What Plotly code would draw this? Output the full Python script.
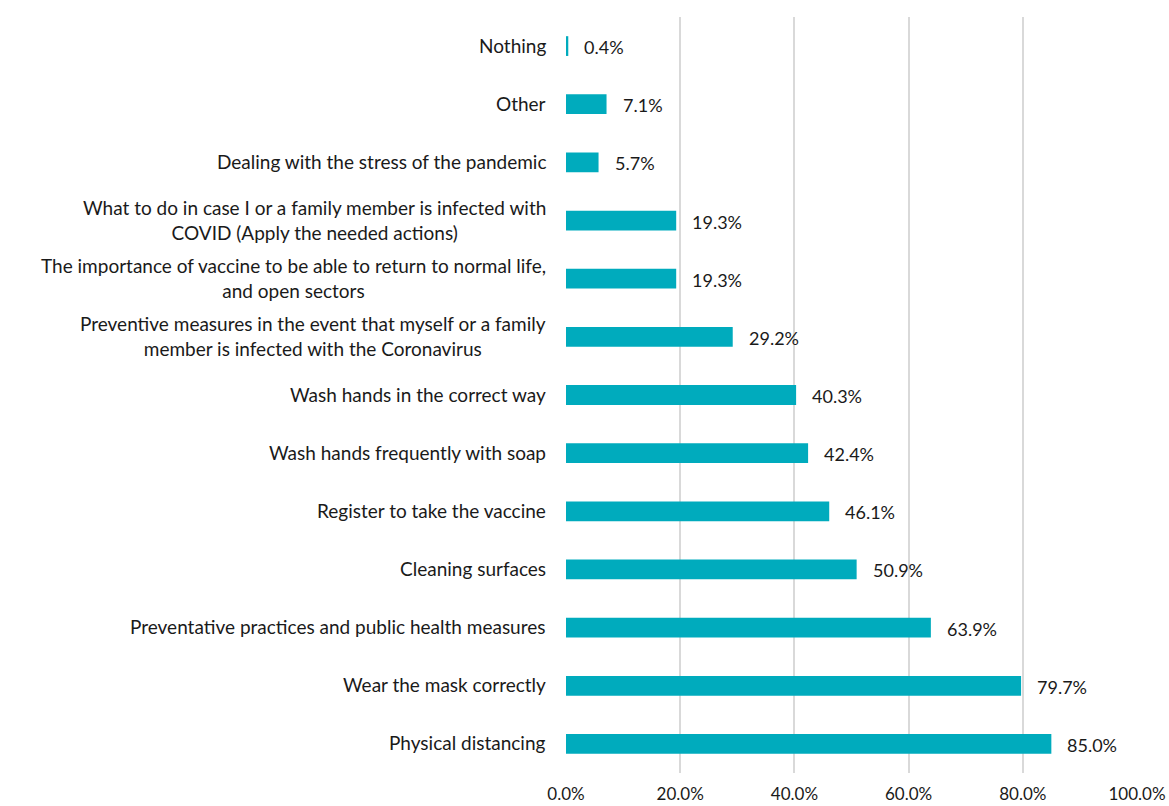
import plotly.graph_objects as go

# Survey topics (top to bottom) and share of respondents (%)
categories = [
    "Nothing",
    "Other",
    "Dealing with the stress of the pandemic",
    "What to do in case I or a family member is infected with<br>COVID (Apply the needed actions)",
    "The importance of vaccine to be able to return to normal life,<br>and open sectors",
    "Preventive measures in the event that myself or a family<br>member is infected with the Coronavirus",
    "Wash hands in the correct way",
    "Wash hands frequently with soap",
    "Register to take the vaccine",
    "Cleaning surfaces",
    "Preventative practices and public health measures",
    "Wear the mask correctly",
    "Physical distancing",
]
values = [0.4, 7.1, 5.7, 19.3, 19.3, 29.2, 40.3, 42.4, 46.1, 50.9, 63.9, 79.7, 85.0]
x_ticks = [0, 20, 40, 60, 80, 100]
x_tick_labels = ["0.0%", "20.0%", "40.0%", "60.0%", "80.0%", "100.0%"]

FONT = "Lato, 'Open Sans', sans-serif"
BAR_COLOR = "#00ABBD"
TEXT_COLOR = "#1a1a1a"

fig = go.Figure(
    go.Bar(
        x=values,
        y=categories,
        orientation="h",
        marker=dict(color=BAR_COLOR, line=dict(width=0)),
        width=0.34,
        hoverinfo="skip",
    )
)

annotations = []
for cat, val in zip(categories, values):
    # category label, lines centred on each other
    annotations.append(dict(
        x=0, xref="paper", y=cat, yref="y",
        text=cat, showarrow=False, xanchor="right", yanchor="middle",
        align="center", xshift=-18, yshift=1,
        font=dict(family=FONT, size=19, color=TEXT_COLOR),
    ))
    # value label at the end of the bar
    annotations.append(dict(
        x=val, xref="x", y=cat, yref="y",
        text=f"{val:.1f}%", showarrow=False, xanchor="left", yanchor="middle",
        xshift=14, yshift=-1,
        font=dict(family=FONT, size=18, color=TEXT_COLOR),
    ))

fig.update_layout(
    width=1169,
    height=806,
    margin=dict(l=566, r=32, t=17, b=33),
    paper_bgcolor="white",
    plot_bgcolor="white",
    showlegend=False,
    annotations=annotations,
    xaxis=dict(
        range=[0, 100],
        tickvals=x_ticks,
        ticktext=x_tick_labels,
        showgrid=True,
        gridcolor="#D9D9D9",
        gridwidth=2,
        zeroline=False,
        showline=False,
        ticks="",
        ticklabelstandoff=9,
        tickfont=dict(family=FONT, size=17, color=TEXT_COLOR),
        automargin=False,
        fixedrange=True,
    ),
    yaxis=dict(
        categoryorder="array",
        categoryarray=categories[::-1],
        showticklabels=False,
        showgrid=False,
        zeroline=False,
        showline=False,
        ticks="",
        automargin=False,
        fixedrange=True,
    ),
)

fig.write_html("out.html")
